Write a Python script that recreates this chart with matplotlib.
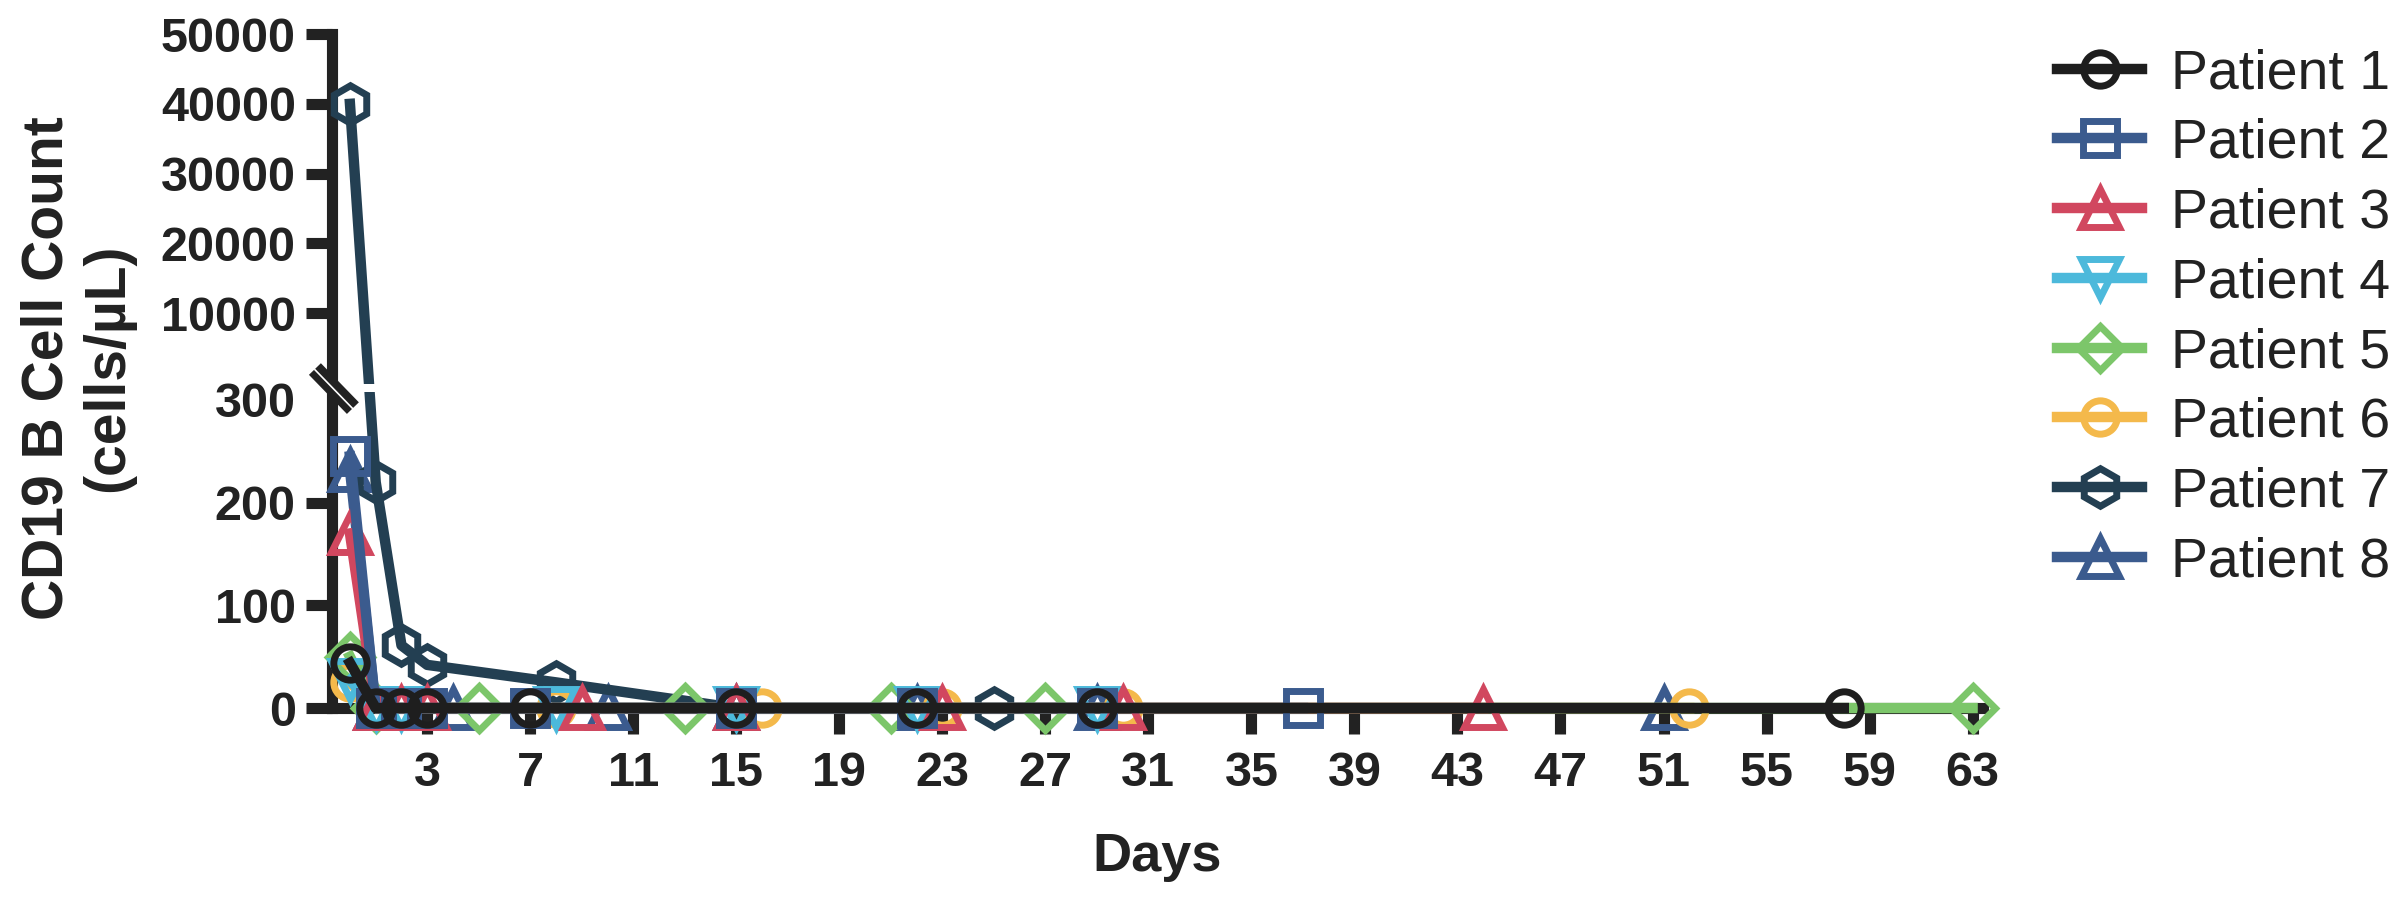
import numpy as np
import matplotlib
matplotlib.use("Agg")
import matplotlib.pyplot as plt
from matplotlib.patches import Rectangle

# data (days, CD19 B cells / uL)
p1_days = [0, 1, 2, 3, 7, 15, 22, 29, 58]
p1_vals = [44, 0, 0, 0, 0, 0, 0, 0, 0]
p2_days = [0, 1, 2, 3, 7, 15, 22, 29, 37]
p2_vals = [245, 0, 0, 0, 0, 0, 0, 0, 0]
p3_days = [0, 1, 2, 3, 9, 15, 23, 30, 44]
p3_vals = [170, 0, 0, 0, 0, 0, 0, 0, 0]
p4_days = [0, 1, 2, 8, 15, 22, 29]
p4_vals = [27, 0, 0, 0, 0, 0, 0]
p5_days = [0, 1, 5, 13, 21, 27, 63]
p5_vals = [50, 0, 0, 0, 0, 0, 0]
p6_days = [0, 1, 8, 16, 23, 30, 52]
p6_vals = [25, 0, 0, 0, 0, 0, 0]
p7_days = [0, 1, 2, 3, 8, 15, 22, 25, 29]
p7_vals = [40000, 220, 61, 42, 25, 0, 0, 0, 0]
p8_days = [0, 1, 4, 10, 15, 22, 29, 51]
p8_vals = [232, 0, 0, 0, 0, 0, 0, 0]

names = ["Patient 1", "Patient 2", "Patient 3", "Patient 4",
         "Patient 5", "Patient 6", "Patient 7", "Patient 8"]
days = [p1_days, p2_days, p3_days, p4_days, p5_days, p6_days, p7_days, p8_days]
vals = [p1_vals, p2_vals, p3_vals, p4_vals, p5_vals, p6_vals, p7_vals, p8_vals]
colors = ["#1e1e1e", "#3b5b8e", "#d1475f", "#4cb9db",
          "#7cc66a", "#f4b94b", "#233f52", "#3b5b8e"]
markers = ["o", "s", "^", "v", "D", "o", "h", "^"]
msizes = [24, 24, 27, 27, 22, 24, 27, 27]

yticks = [0, 100, 200, 300, 10000, 20000, 30000, 40000, 50000]
xticks = list(range(3, 64, 4))

# broken y axis: 0-300 linear, then a gap, then 300-50000 compressed
LOW = 308.0
GAP = 19.0
K = 0.006975


def fwd(v):
    v = np.asarray(v, dtype=float)
    return np.where(v <= 300, v * LOW / 300, LOW + GAP + (v - 300) * K)


def inv(t):
    t = np.asarray(t, dtype=float)
    return np.where(t <= LOW, t * 300 / LOW,
                    np.where(t >= LOW + GAP, 300 + (t - LOW - GAP) / K, 300))


ink = "#222222"
fig = plt.figure(figsize=(24.07, 9.06), dpi=100)
ax = fig.add_axes([0.1379, 0.2185, 0.6859, 0.7439])
ax.set_yscale("function", functions=(fwd, inv))

handles = []
for i in range(7, -1, -1):
    ln, = ax.plot(days[i], vals[i], color=colors[i], lw=7.5,
                  marker=markers[i], ms=msizes[i], mfc="none", mew=5,
                  mec=colors[i], clip_on=False, zorder=3 + (8 - i) * 0.1,
                  label=names[i])
    handles.append(ln)
handles = handles[::-1]

ax.set_xlim(-0.7, 63.4)
ax.set_ylim(0, 50000)
ax.set_xticks(xticks)
ax.set_yticks(yticks)
ax.set_yticklabels([str(t) for t in yticks])
ax.minorticks_off()

for s in ["top", "right"]:
    ax.spines[s].set_visible(False)
for s in ["left", "bottom"]:
    ax.spines[s].set_linewidth(8)
    ax.spines[s].set_color(ink)
ax.tick_params(axis="both", length=19, width=8, color=ink, labelcolor=ink)
ax.tick_params(axis="y", pad=7)
ax.tick_params(axis="x", pad=12)
for lab in ax.get_xticklabels() + ax.get_yticklabels():
    lab.set_fontfamily("Liberation Sans")
    lab.set_fontweight("bold")
    lab.set_fontsize(35)
# hide the tick line at 300 (covered by the break mark)
ax.yaxis.get_major_ticks()[3].tick1line.set_visible(False)

# cut in the data line at the break and the break mark itself
ax.add_patch(Rectangle((0.006, 0.4688), 1.0, 0.0119, transform=ax.transAxes,
                       facecolor="white", edgecolor="none", zorder=4,
                       clip_on=False))
bx = [-0.0103, 0.0127]
by = [0.5030, 0.4450]
ax.plot(bx, by, color=ink, lw=12, transform=ax.transAxes, clip_on=False,
        solid_capstyle="butt", zorder=5)
ax.plot(bx, [by[0] - 0.001, by[1] - 0.001], color="white", lw=1.2,
        transform=ax.transAxes, clip_on=False, zorder=6)

ax.set_xlabel("Days", fontfamily="Liberation Sans", fontweight="bold",
              fontsize=39, color=ink)
ax.xaxis.label.set_va("center")
ax.xaxis.set_label_coords(0.5, -0.221)
ax.set_ylabel("CD19 B Cell Count\n(cells/\u00b5L)", fontfamily="Liberation Sans",
              fontweight="bold", fontsize=41, color=ink, linespacing=1.15)
ax.yaxis.label.set_va("center")
ax.yaxis.set_label_coords(-0.154, 0.5045)

leg = fig.legend(handles=handles, loc="upper left",
                 bbox_to_anchor=(0.8546, 0.947), frameon=False,
                 prop={"family": "Liberation Sans", "size": 40},
                 handlelength=1.53, handletextpad=0.53, labelspacing=0.32,
                 borderpad=0, borderaxespad=0)
for t in leg.get_texts():
    t.set_color(ink)

fig.savefig("out.png", dpi=100)
